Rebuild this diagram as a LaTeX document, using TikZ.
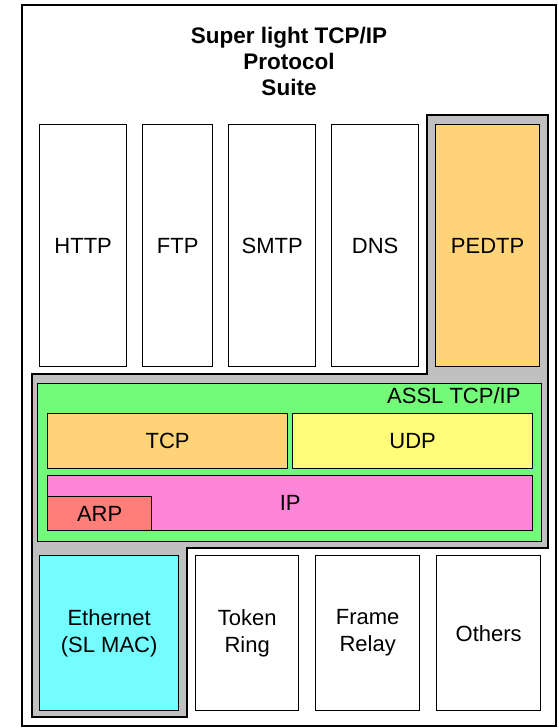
\documentclass[tikz,border=0pt]{standalone}
\usepackage{fontspec}
\setmainfont{Liberation Sans}
\definecolor{cantaloupe}{HTML}{FFD479}
\definecolor{banana}{HTML}{FFFC79}
\definecolor{flora}{HTML}{73FA79}
\definecolor{carnation}{HTML}{FF85D8}
\definecolor{salmon}{HTML}{FF7E79}
\definecolor{ice}{HTML}{73FDFF}
\definecolor{shade}{HTML}{C0C0C0}
\tikzset{
  lbl/.style={font=\fontsize{22}{27}\selectfont, align=center},
  box/.style={draw=black, line width=1.3pt, rectangle, inner sep=0pt, anchor=north west, lbl},
}
\begin{document}
\begin{tikzpicture}[x=1pt,y=-1pt]
\useasboundingbox (0,0) rectangle (558,728);
% outer frame
\node[box, fill=white, line width=2pt, minimum width=534pt, minimum height=721pt] (outer) at (21,4) {};
\node[font=\fontsize{22.5}{26}\selectfont\bfseries, align=center] (title) at (289,61) {Super light TCP/IP\\Protocol\\Suite};
% gray region
\draw[fill=shade, line width=1.2pt] (427,115) -- (548,115) -- (548,548) -- (187,548) -- (187,717) -- (32,717) -- (32,374) -- (427,374) -- cycle;
% top row
\node[box, fill=white, minimum width=87pt, minimum height=242pt] (http) at (39,124) {HTTP};
\node[box, fill=white, minimum width=70pt, minimum height=242pt] (ftp) at (142,124) {FTP};
\node[box, fill=white, minimum width=87pt, minimum height=242pt] (smtp) at (228,124) {SMTP};
\node[box, fill=white, minimum width=87pt, minimum height=242pt] (dns) at (331,124) {DNS};
\node[box, fill=cantaloupe, minimum width=104pt, minimum height=242pt] (pedtp) at (435,124) {PEDTP};
% ASSL
\node[box, fill=flora, minimum width=504pt, minimum height=158pt] (assl) at (37,383) {};
\node[lbl, anchor=east] (assllbl) at (524,396) {ASSL TCP/IP};
\node[box, fill=cantaloupe, minimum width=240pt, minimum height=55pt] (tcp) at (47,413) {TCP};
\node[box, fill=banana, minimum width=240pt, minimum height=55pt] (udp) at (292,413) {UDP};
\node[box, fill=carnation, minimum width=485pt, minimum height=55pt] (ip) at (47,475) {IP};
\node[box, fill=salmon, minimum width=104pt, minimum height=34pt] (arp) at (47,496) {ARP};
% bottom row
\node[box, fill=ice, minimum width=139pt, minimum height=155pt] (eth) at (39,555) {Ethernet\\(SL MAC)};
\node[box, fill=white, minimum width=103pt, minimum height=155pt] (token) at (195,555) {Token\\Ring};
\node[box, fill=white, minimum width=104pt, minimum height=155pt] (frame) at (315,555) {Frame\\Relay};
\node[box, fill=white, minimum width=104pt, minimum height=155pt] (others) at (436,555) {Others};
\end{tikzpicture}
\end{document}
